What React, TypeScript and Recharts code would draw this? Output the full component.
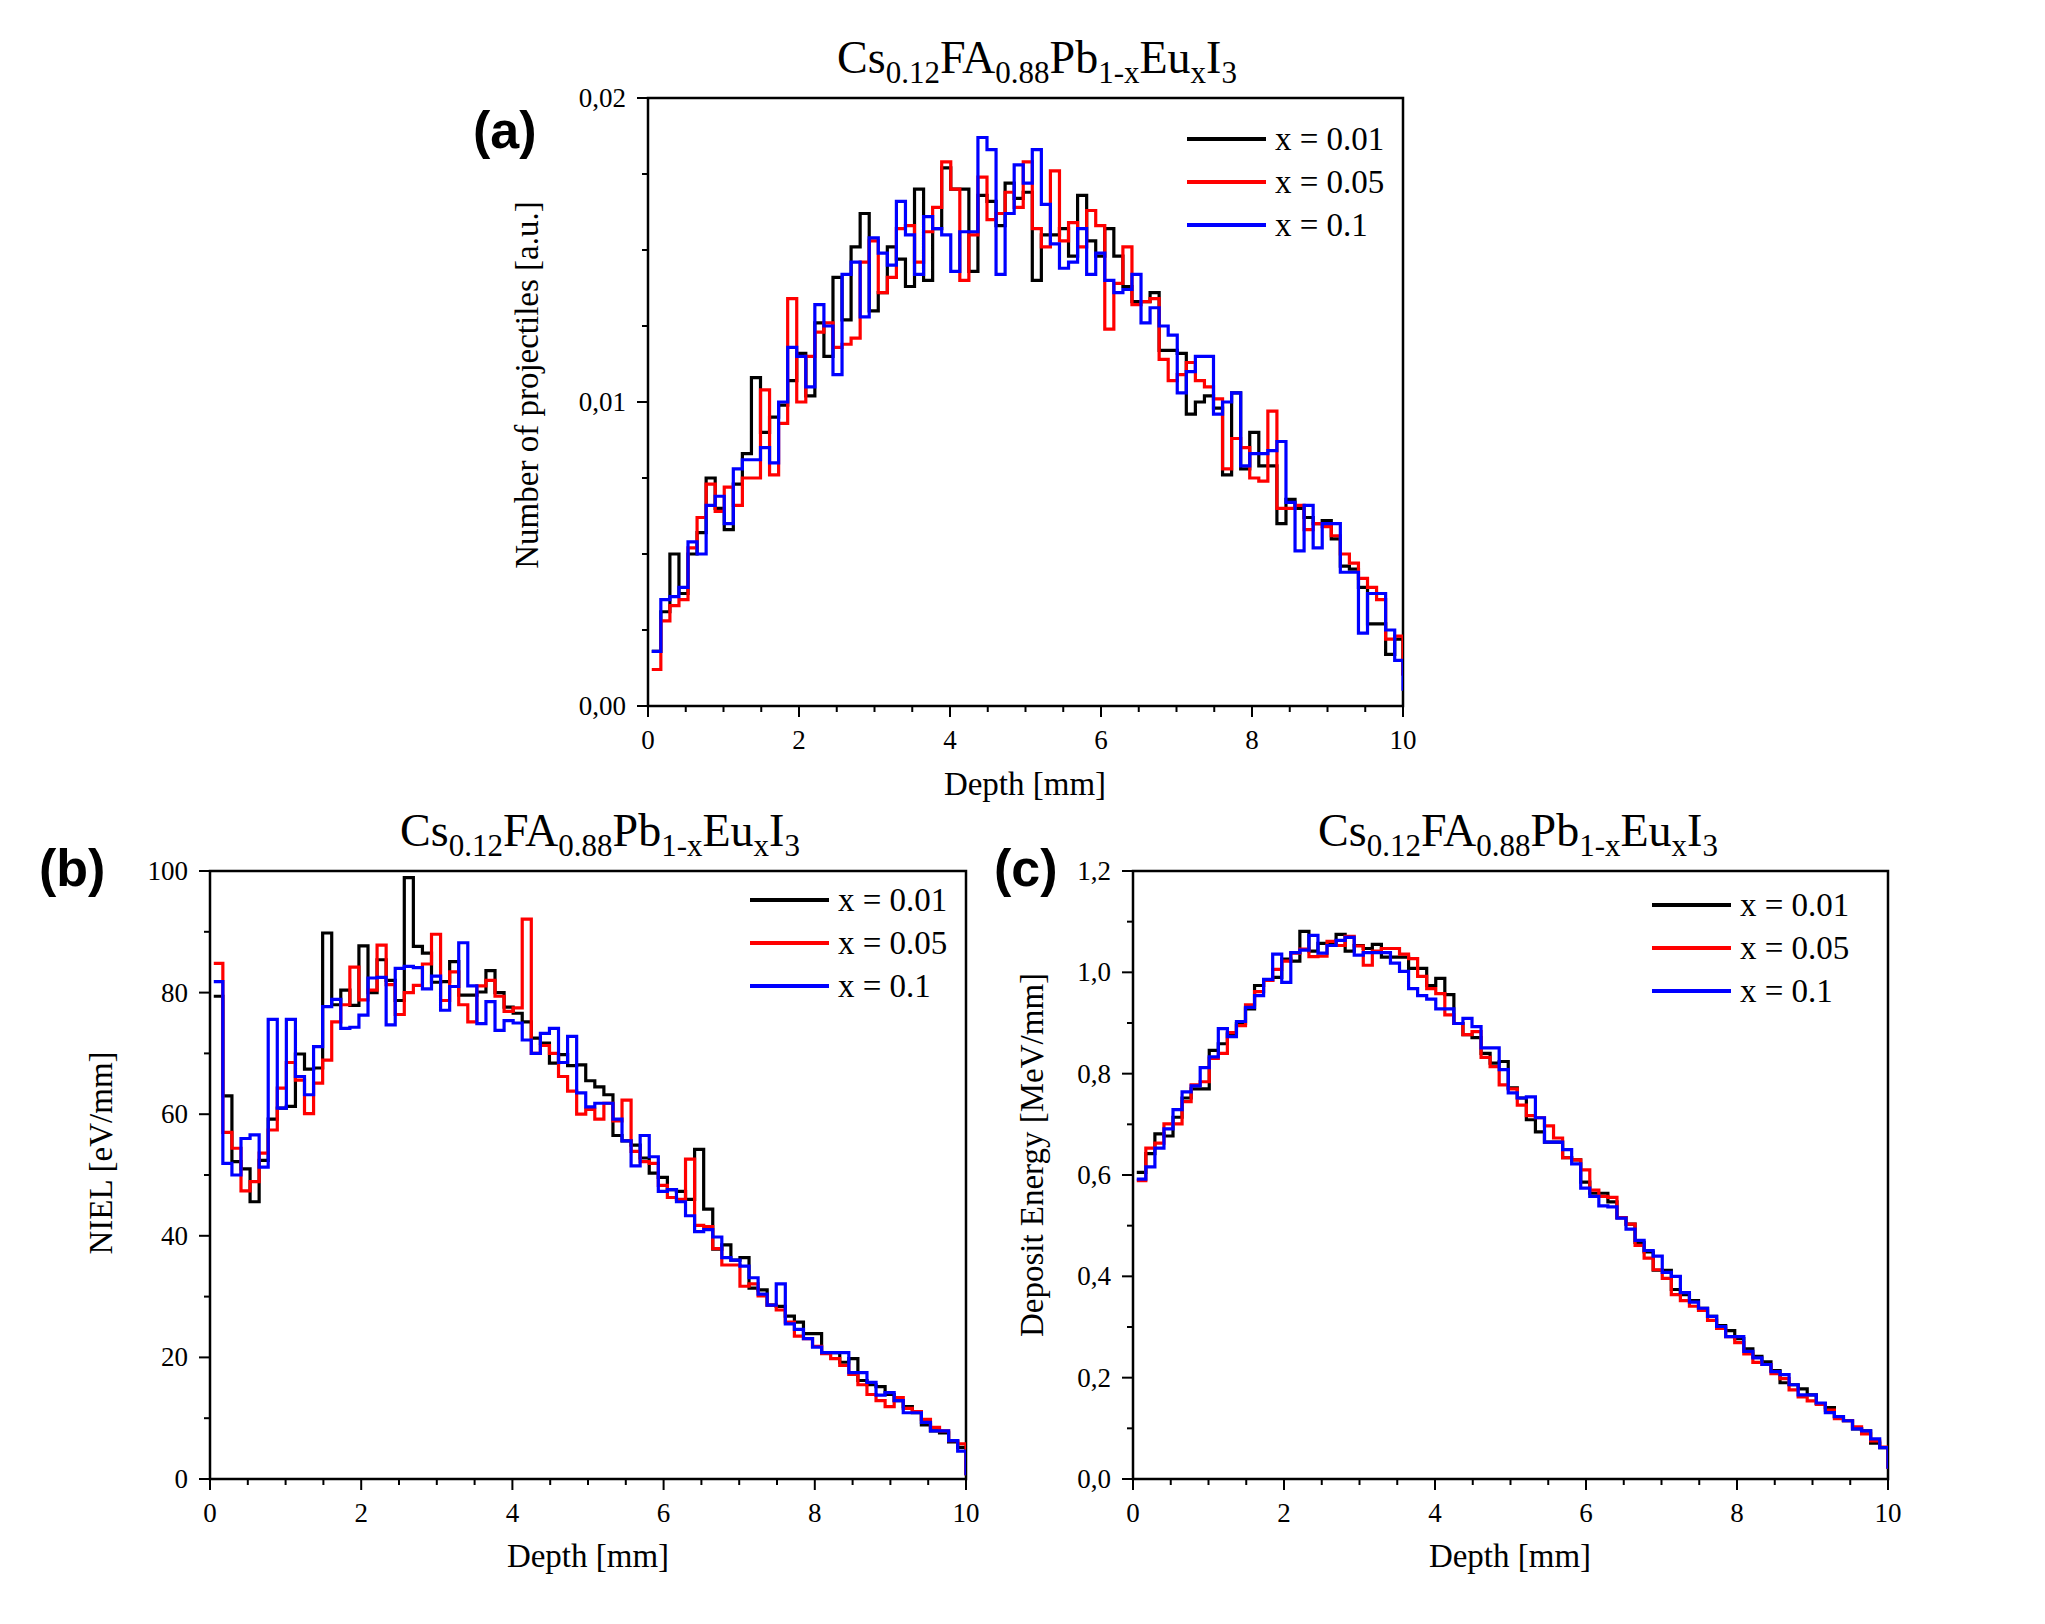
import React from "react";
import { LineChart, Line, XAxis, YAxis, ReferenceArea } from "recharts";

const SERIF = '"Liberation Serif", "Times New Roman", serif';
const SANS = '"Liberation Sans", Arial, sans-serif';

// histogram bins (mm): left edge of first bin and bin width
const BIN_START = 0.05;
const BIN_WIDTH = 0.12;

const SERIES = ["x = 0.01", "x = 0.05", "x = 0.1"];
const COLORS = ["#000000", "#ff0000", "#0000ff"];

const X_TICKS = [0, 0.5, 1, 1.5, 2, 2.5, 3, 3.5, 4, 4.5, 5, 5.5, 6, 6.5, 7, 7.5, 8, 8.5, 9, 9.5, 10];
const X_LABELS = ["0", "", "", "", "2", "", "", "", "4", "", "", "", "6", "", "", "", "8", "", "", "", "10"];

// (a) number of projectiles
const A_Y_TICKS = [0, 0.0025, 0.005, 0.0075, 0.01, 0.0125, 0.015, 0.0175, 0.02];
const A_Y_LABELS = ["0,00", "", "", "", "0,01", "", "", "", "0,02"];
const A_X001 = [
  0.0018, 0.0031, 0.005, 0.0037, 0.005, 0.0057, 0.0075, 0.0065, 0.0058, 0.0073,
  0.0083, 0.0108, 0.009, 0.0095, 0.0099, 0.0107, 0.0116, 0.0102, 0.0126, 0.0115,
  0.0141, 0.0127, 0.0151, 0.0162, 0.013, 0.0136, 0.0151, 0.0147, 0.0138, 0.017,
  0.014, 0.0157, 0.0177, 0.017, 0.017, 0.0143, 0.0168, 0.0166, 0.0158, 0.0172,
  0.0167, 0.0169, 0.014, 0.0155, 0.0155, 0.0157, 0.0148, 0.0168, 0.0153, 0.0148,
  0.0157, 0.0148, 0.0138, 0.0133, 0.0133, 0.0136, 0.0117, 0.0117, 0.0116, 0.0096,
  0.01, 0.0102, 0.0098, 0.0076, 0.0103, 0.0078, 0.009, 0.0079, 0.0079, 0.006,
  0.0068, 0.0065, 0.0062, 0.006, 0.0061, 0.0055, 0.0046, 0.0045, 0.0039, 0.0027,
  0.0027, 0.0017, 0.0022,
];
const A_X005 = [
  0.0012, 0.0028, 0.0033, 0.0035, 0.0052, 0.0062, 0.0073, 0.0064, 0.0072, 0.0066,
  0.0075, 0.0075, 0.0104, 0.0076, 0.0093, 0.0134, 0.01, 0.0115, 0.0123, 0.0126,
  0.0118, 0.0119, 0.0121, 0.0146, 0.0153, 0.0136, 0.0141, 0.0157, 0.0158, 0.0146,
  0.0156, 0.0164, 0.0179, 0.017, 0.014, 0.0155, 0.0174, 0.016, 0.0162, 0.0169,
  0.0164, 0.0179, 0.0157, 0.0151, 0.0176, 0.0153, 0.0159, 0.0151, 0.0163, 0.0158,
  0.0124, 0.0139, 0.0151, 0.0132, 0.0133, 0.0134, 0.0114, 0.0107, 0.0109, 0.0113,
  0.0107, 0.0105, 0.0101, 0.0078, 0.0088, 0.0085, 0.0075, 0.0074, 0.0097, 0.0065,
  0.0065, 0.0066, 0.0058, 0.006, 0.0059, 0.0056, 0.005, 0.0047, 0.0042, 0.0039,
  0.0035, 0.0022, 0.0023,
];
const A_X01 = [
  0.0018, 0.0035, 0.0036, 0.0039, 0.0054, 0.005, 0.0066, 0.0069, 0.006, 0.0078,
  0.0081, 0.0081, 0.0085, 0.008, 0.01, 0.0118, 0.0115, 0.0105, 0.0132, 0.0125,
  0.0109, 0.0142, 0.0146, 0.0128, 0.0154, 0.0149, 0.0145, 0.0166, 0.0155, 0.0142,
  0.0161, 0.0157, 0.0155, 0.0143, 0.0156, 0.0156, 0.0187, 0.0183, 0.0142, 0.0162,
  0.0178, 0.0172, 0.0183, 0.0165, 0.0152, 0.0144, 0.0146, 0.0157, 0.0142, 0.0149,
  0.014, 0.0136, 0.0137, 0.0142, 0.0126, 0.0131, 0.0125, 0.0122, 0.0103, 0.011,
  0.0115, 0.0115, 0.0096, 0.01, 0.0103, 0.0079, 0.0083, 0.0083, 0.0084, 0.0087,
  0.0067, 0.0051, 0.0066, 0.0052, 0.006, 0.006, 0.0044, 0.0044, 0.0024, 0.0037,
  0.0037, 0.0025, 0.0015,
];
const A_END = [0.001, 0.001, 0.0005];

// (b) NIEL
const B_Y_TICKS = [0, 10, 20, 30, 40, 50, 60, 70, 80, 90, 100];
const B_Y_LABELS = ["0", "", "20", "", "40", "", "60", "", "80", "", "100"];
const B_X001 = [
  79.4, 63, 52.2, 51, 45.6, 52.4, 59.2, 61, 61.3, 69.9,
  67.4, 67.6, 89.8, 78, 80.4, 77.9, 87.7, 80, 85.4, 82,
  78.7, 98.9, 87.6, 86.5, 81.7, 81.8, 85.1, 79.6, 79.6, 80.1,
  83.6, 80, 77.6, 76.6, 75.2, 72.5, 71.7, 68.4, 69.8, 68,
  68.1, 65.5, 64.5, 63.2, 56.5, 55.6, 54.9, 52.8, 50.3, 49.6,
  47.6, 47.3, 46, 54.2, 44.4, 37.8, 38.5, 36, 36.4, 31.4,
  31.1, 28.6, 28.4, 26.8, 25.8, 23.9, 23.9, 20.8, 20.8, 19.2,
  19.8, 16.2, 15.5, 15.2, 13.9, 12.9, 11.9, 10.9, 8.9, 7.9,
  7.6, 6.1, 5.2,
];
const B_X005 = [
  84.8, 57, 54.4, 47.4, 48.9, 53.6, 57.4, 64.3, 68.5, 65.6,
  60.1, 65.1, 68.9, 75.2, 78, 84.2, 78.8, 80.4, 87.8, 81.3,
  76.4, 80, 81.2, 84.7, 89.6, 78.7, 83.4, 78, 75.2, 81.1,
  82, 79.4, 76.9, 77.5, 92.1, 70, 71.3, 70, 66.2, 63.8,
  60, 60.8, 59.2, 61.8, 58.9, 62.3, 53.9, 52.2, 51.9, 48.3,
  46.3, 46, 52.6, 41.7, 41.5, 37.9, 35.2, 35.2, 31.7, 32.1,
  30.1, 28.6, 27.8, 25.8, 23.5, 23.1, 21.8, 20.6, 19.8, 18.7,
  17.2, 15.5, 13.9, 12.9, 11.9, 13.4, 11.6, 11.1, 9.8, 8.5,
  7.9, 6.3, 5.8,
];
const B_X01 = [
  81.8, 51.9, 50, 56, 56.6, 51.3, 75.6, 61, 75.6, 66.2,
  63.2, 71.1, 77.7, 78.9, 74.1, 74.3, 76.3, 82.4, 82.5, 74.7,
  84, 84.3, 84.1, 80.6, 82.7, 77.1, 81, 88.2, 81.1, 74.9,
  78.5, 73.8, 75.4, 75, 72.2, 70, 73.3, 74.1, 68.5, 72.8,
  63.5, 61.2, 61.8, 61.8, 59.2, 55.6, 51.5, 56.5, 53, 47.3,
  47.6, 45.6, 43.3, 40.7, 41, 39.8, 36.4, 36, 35, 33.1,
  30.4, 28.6, 32.1, 25.5, 24.6, 23.1, 21.7, 20.8, 20.8, 20.8,
  17.5, 17.5, 15.9, 13.8, 14.2, 12.9, 10.9, 10.9, 9.3, 7.9,
  7.9, 6.3, 4.6,
];
const B_END = [0.6, 0.6, 0.6];

// (c) deposit energy
const C_Y_TICKS = [0, 0.1, 0.2, 0.3, 0.4, 0.5, 0.6, 0.7, 0.8, 0.9, 1, 1.1, 1.2];
const C_Y_LABELS = ["0,0", "", "0,2", "", "0,4", "", "0,6", "", "0,8", "", "1,0", "", "1,2"];
const C_X001 = [
  0.605, 0.642, 0.681, 0.677, 0.714, 0.752, 0.77, 0.77, 0.846, 0.859,
  0.878, 0.899, 0.928, 0.974, 0.984, 0.99, 1.026, 1.022, 1.081, 1.042,
  1.057, 1.057, 1.075, 1.042, 1.053, 1.047, 1.055, 1.03, 1.03, 1.03,
  1.008, 1.008, 0.974, 0.988, 0.956, 0.899, 0.877, 0.871, 0.84, 0.821,
  0.824, 0.772, 0.752, 0.709, 0.685, 0.665, 0.665, 0.634, 0.63, 0.586,
  0.564, 0.564, 0.547, 0.516, 0.503, 0.467, 0.448, 0.412, 0.412, 0.374,
  0.364, 0.352, 0.337, 0.321, 0.303, 0.293, 0.277, 0.257, 0.242, 0.231,
  0.214, 0.19, 0.186, 0.178, 0.166, 0.149, 0.141, 0.123, 0.115, 0.099,
  0.095, 0.071, 0.062,
];
const C_X005 = [
  0.589, 0.653, 0.663, 0.701, 0.701, 0.745, 0.778, 0.784, 0.83, 0.84,
  0.881, 0.895, 0.936, 0.962, 0.984, 1.006, 1.022, 1.038, 1.046, 1.031,
  1.032, 1.061, 1.053, 1.071, 1.052, 1.014, 1.042, 1.047, 1.047, 1.036,
  1.027, 0.992, 0.968, 0.958, 0.916, 0.899, 0.877, 0.883, 0.832, 0.814,
  0.778, 0.77, 0.738, 0.717, 0.713, 0.697, 0.673, 0.634, 0.63, 0.61,
  0.57, 0.558, 0.556, 0.516, 0.503, 0.461, 0.436, 0.413, 0.396, 0.364,
  0.352, 0.341, 0.333, 0.313, 0.297, 0.281, 0.269, 0.247, 0.23, 0.226,
  0.208, 0.198, 0.176, 0.162, 0.154, 0.147, 0.136, 0.119, 0.115, 0.103,
  0.089, 0.075, 0.063,
];
const C_X01 = [
  0.592, 0.616, 0.653, 0.691, 0.729, 0.764, 0.776, 0.812, 0.833, 0.889,
  0.873, 0.903, 0.931, 0.954, 0.986, 1.036, 0.98, 1.039, 1.044, 1.073,
  1.038, 1.053, 1.063, 1.069, 1.034, 1.039, 1.039, 1.039, 1.018, 1.002,
  0.968, 0.954, 0.947, 0.928, 0.928, 0.899, 0.909, 0.893, 0.851, 0.851,
  0.808, 0.762, 0.752, 0.754, 0.713, 0.665, 0.665, 0.65, 0.622, 0.574,
  0.558, 0.539, 0.537, 0.515, 0.493, 0.471, 0.451, 0.44, 0.408, 0.4,
  0.368, 0.349, 0.337, 0.321, 0.301, 0.281, 0.281, 0.252, 0.239, 0.226,
  0.212, 0.206, 0.186, 0.166, 0.166, 0.15, 0.131, 0.123, 0.115, 0.099,
  0.095, 0.079, 0.062,
];
const C_END = [0.02, 0.02, 0.02];

type Row = { depth: number; k: number; r: number; b: number };

function buildRows(k: number[], r: number[], b: number[], end: number[]): Row[] {
  const rows = k.map((v, i) => ({
    depth: Math.round((BIN_START + i * BIN_WIDTH) * 1000) / 1000,
    k: v,
    r: r[i],
    b: b[i],
  }));
  rows.push({ depth: 10, k: end[0], r: end[1], b: end[2] });
  return rows;
}

const rowsA = buildRows(A_X001, A_X005, A_X01, A_END);
const rowsB = buildRows(B_X001, B_X005, B_X01, B_END);
const rowsC = buildRows(C_X001, C_X005, C_X01, C_END);

function renderXTick(props: any) {
  const { x, y, payload } = props;
  const label = X_LABELS[X_TICKS.indexOf(payload.value)] || "";
  const len = label ? 11 : 6;
  return (
    <g>
      <line x1={x} y1={y} x2={x} y2={y + len} stroke="#000" strokeWidth={2} />
      {label && (
        <text x={x} y={y + 43} textAnchor="middle" fontFamily={SERIF} fontSize={27} fill="#000">
          {label}
        </text>
      )}
    </g>
  );
}

function makeYTick(ticks: number[], labels: string[]) {
  return (props: any) => {
    const { x, y, payload } = props;
    const label = labels[ticks.indexOf(payload.value)] || "";
    const len = label ? 11 : 6;
    return (
      <g>
        <line x1={x} y1={y} x2={x - len} y2={y} stroke="#000" strokeWidth={2} />
        {label && (
          <text x={x - 22} y={y + 9} textAnchor="end" fontFamily={SERIF} fontSize={27} fill="#000">
            {label}
          </text>
        )}
      </g>
    );
  };
}

interface PanelProps {
  left: number;
  top: number;
  plotW: number;
  plotH: number;
  rows: Row[];
  yMax: number;
  yTicks: number[];
  yLabels: string[];
}

function Panel({ left, top, plotW, plotH, rows, yMax, yTicks, yLabels }: PanelProps) {
  const yAxisW = 120;
  const xAxisH = 60;
  const m = { top: 30, right: 40, bottom: 0, left: 0 };
  return (
    <div style={{ position: "absolute", left: left - yAxisW, top: top - m.top }}>
      <LineChart
        width={yAxisW + plotW + m.right}
        height={m.top + plotH + xAxisH}
        data={rows}
        margin={m}
      >
        <XAxis
          dataKey="depth"
          type="number"
          domain={[0, 10]}
          ticks={X_TICKS}
          interval={0}
          allowDataOverflow
          axisLine={false}
          tickLine={false}
          tickSize={0}
          tickMargin={0}
          height={xAxisH}
          tick={renderXTick}
        />
        <YAxis
          type="number"
          domain={[0, yMax]}
          ticks={yTicks}
          interval={0}
          allowDataOverflow
          axisLine={false}
          tickLine={false}
          tickSize={0}
          tickMargin={0}
          width={yAxisW}
          tick={makeYTick(yTicks, yLabels)}
        />
        <Line dataKey="k" type="stepAfter" stroke={COLORS[0]} strokeWidth={3.2} strokeLinejoin="miter" dot={false} activeDot={false} isAnimationActive={false} />
        <Line dataKey="r" type="stepAfter" stroke={COLORS[1]} strokeWidth={3.2} strokeLinejoin="miter" dot={false} activeDot={false} isAnimationActive={false} />
        <Line dataKey="b" type="stepAfter" stroke={COLORS[2]} strokeWidth={3.2} strokeLinejoin="miter" dot={false} activeDot={false} isAnimationActive={false} />
        <ReferenceArea x1={0} x2={10} y1={0} y2={yMax} fill="none" stroke="#000" strokeWidth={2.5} ifOverflow="visible" />
      </LineChart>
    </div>
  );
}

function Title({ cx, y }: { cx: number; y: number }) {
  const d = 10;
  const s = 31;
  return (
    <text x={cx} y={y} textAnchor="middle" fontFamily={SERIF} fontSize={46} fill="#000">
      Cs<tspan dy={d} fontSize={s}>0.12</tspan>
      <tspan dy={-d}>FA</tspan><tspan dy={d} fontSize={s}>0.88</tspan>
      <tspan dy={-d}>Pb</tspan><tspan dy={d} fontSize={s}>1-x</tspan>
      <tspan dy={-d}>Eu</tspan><tspan dy={d} fontSize={s}>x</tspan>
      <tspan dy={-d}>I</tspan><tspan dy={d} fontSize={s}>3</tspan>
    </text>
  );
}

function LegendBox({ x, ys }: { x: number; ys: number[] }) {
  return (
    <g>
      {SERIES.map((name, i) => (
        <g key={name}>
          <line x1={x} y1={ys[i]} x2={x + 79} y2={ys[i]} stroke={COLORS[i]} strokeWidth={4} />
          <text x={x + 88} y={ys[i] + 11} fontFamily={SERIF} fontSize={33} fill="#000">
            {name}
          </text>
        </g>
      ))}
    </g>
  );
}

function AxisTitleY({ x, y, text }: { x: number; y: number; text: string }) {
  return (
    <text x={x} y={y} transform={`rotate(-90 ${x} ${y})`} textAnchor="middle" fontFamily={SERIF} fontSize={33} fill="#000">
      {text}
    </text>
  );
}

function AxisTitleX({ x, y, text }: { x: number; y: number; text: string }) {
  return (
    <text x={x} y={y} textAnchor="middle" fontFamily={SERIF} fontSize={33} fill="#000">
      {text}
    </text>
  );
}

export default function App() {
  return (
    <div style={{ position: "absolute", left: 0, top: 0, width: 2045, height: 1624, background: "#fff", overflow: "hidden" }}>
      <Panel left={648} top={98} plotW={755} plotH={608} rows={rowsA} yMax={0.02} yTicks={A_Y_TICKS} yLabels={A_Y_LABELS} />
      <Panel left={210} top={871} plotW={756} plotH={608} rows={rowsB} yMax={100} yTicks={B_Y_TICKS} yLabels={B_Y_LABELS} />
      <Panel left={1133} top={871} plotW={755} plotH={608} rows={rowsC} yMax={1.2} yTicks={C_Y_TICKS} yLabels={C_Y_LABELS} />
      <svg width={2045} height={1624} style={{ position: "absolute", left: 0, top: 0, pointerEvents: "none" }}>
        <Title cx={1037} y={73} />
        <Title cx={600} y={846} />
        <Title cx={1518} y={846} />
        <text x={473} y={148} fontFamily={SANS} fontWeight="bold" fontSize={52} fill="#000">(a)</text>
        <text x={39} y={886} fontFamily={SANS} fontWeight="bold" fontSize={52} fill="#000">(b)</text>
        <text x={994} y={886} fontFamily={SANS} fontWeight="bold" fontSize={52} fill="#000">(c)</text>
        <AxisTitleX x={1025} y={795} text="Depth [mm]" />
        <AxisTitleX x={588} y={1567} text="Depth [mm]" />
        <AxisTitleX x={1510} y={1567} text="Depth [mm]" />
        <AxisTitleY x={538} y={385} text="Number of projectiles [a.u.]" />
        <AxisTitleY x={112} y={1153} text="NIEL [eV/mm]" />
        <AxisTitleY x={1043} y={1155} text="Deposit Energy [MeV/mm]" />
        <LegendBox x={1187} ys={[139, 182, 225]} />
        <LegendBox x={750} ys={[900, 943, 986]} />
        <LegendBox x={1652} ys={[905, 948, 991]} />
      </svg>
    </div>
  );
}
